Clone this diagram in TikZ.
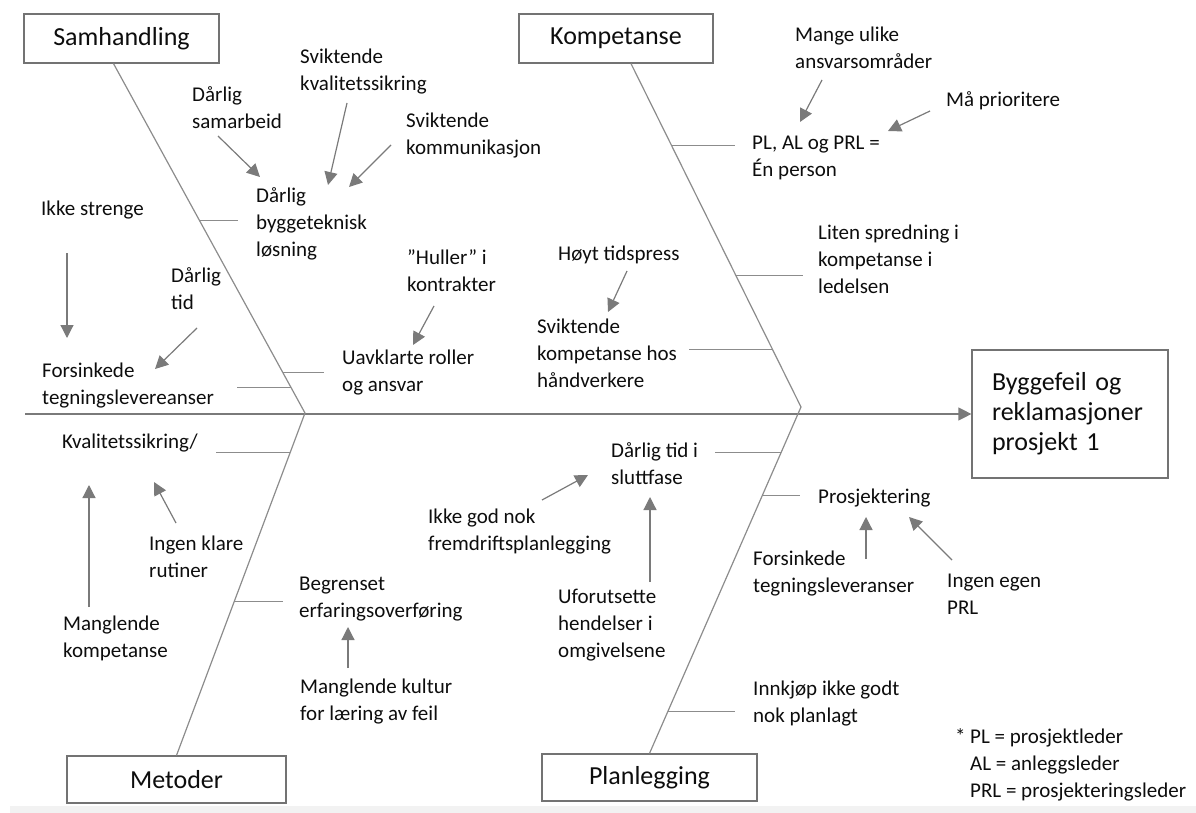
\documentclass[tikz,border=0pt]{standalone}
\usepackage{fontspec}
\setmainfont{Carlito}
\usepackage{xcolor}
\usepackage{tikz}
\usetikzlibrary{arrows.meta,calc}
\newcommand{\lbltext}[1]{\begin{tabular}[t]{@{}l@{}}#1\end{tabular}}

\begin{document}
\begin{tikzpicture}[x=1pt, y=-1pt,
    every node/.style={text=black!95},
    lbl/.style={anchor=base west, inner sep=0pt, font=\fontsize{21}{27}\selectfont},
    catbox/.style={draw=black!55, line width=1.2pt, fill=white, inner sep=0pt, font=\fontsize{26}{30}\selectfont},
    bone/.style={draw=gray!90, line width=1.2pt},
    branch/.style={draw=gray!90, line width=1pt},
    cause/.style={draw=black!52, line width=1.2pt, -{Triangle[length=13pt,width=13pt]}}]
    \useasboundingbox (0,0) rectangle (1196,813);
    \fill[black!5] (10,806) rectangle (1196,813);

    % Category boxes and effect
    \node[catbox, minimum width=195pt, minimum height=49pt] (samh) at (121.5,38.5) {Samhandling};
    \node[catbox, minimum width=194pt, minimum height=49pt] (komp) at (616,38.5) {Kompetanse};
    \node[catbox, minimum width=219pt, minimum height=47pt] (metod) at (176.5,779.5) {Metoder};
    \node[catbox, minimum width=215pt, minimum height=47pt] (planl) at (649.5,777.5) {Planlegging};
    \node[catbox, minimum width=196pt, minimum height=128pt, text width=156pt, align=left] (result) at (1070,414) {Byggefeil og\\reklamasjoner\\prosjekt 1};

    % Spine and bones
    \coordinate (tail) at (25,414);
    \coordinate (lefttip) at (305,413);
    \coordinate (righttip) at (801,407);
    \draw[cause] (tail) -- (result.west);
    \draw[bone] ($(samh.south)+(-8,0)$) -- (lefttip)
        coordinate[pos=0.449] (sb1) coordinate[pos=0.883] (sb2) coordinate[pos=0.926] (sb3);
    \draw[bone] ($(komp.south)+(15,0)$) -- (righttip)
        coordinate[pos=0.238] (kb1) coordinate[pos=0.616] (kb2) coordinate[pos=0.834] (kb3);
    \draw[bone] (metod.north) -- (lefttip)
        coordinate[pos=0.886] (mb1) coordinate[pos=0.449] (mb2);
    \draw[bone] (planl.north) -- (righttip)
        coordinate[pos=0.870] (pb1) coordinate[pos=0.7435] (pb2) coordinate[pos=0.121] (pb3);

    % Samhandling
    \node[lbl] (kvalsik) at (300,64) {\lbltext{Sviktende\\kvalitetssikring}};
    \node[lbl] (samarb) at (192,102) {\lbltext{Dårlig\\samarbeid}};
    \node[lbl] (komm) at (406,128) {\lbltext{Sviktende\\kommunikasjon}};
    \node[lbl] (bygg) at (256,203) {\lbltext{Dårlig\\byggeteknisk\\løsning}};
    \node[lbl] (strenge) at (41,215) {Ikke strenge};
    \node[lbl] (daarligtid) at (171,282) {\lbltext{Dårlig\\tid}};
    \node[lbl] (forsink) at (42,377) {\lbltext{Forsinkede\\tegningslevereanser}};
    \node[lbl] (huller) at (407,264) {\lbltext{”Huller” i\\kontrakter}};
    \node[lbl] (roller) at (342,364) {\lbltext{Uavklarte roller\\og ansvar}};
    \draw[branch, shorten >=18pt] (sb1) -- (sb1 -| bygg.west);
    \draw[branch, shorten >=18pt] (sb2) -- (sb2 -| roller.west);
    \draw[branch, shorten >=23pt] (sb3) -- (sb3 -| forsink.east);
    \draw[cause] ($(samarb.base west)+(26,34)$) -- ($(bygg.base west)+(4,-26)$);
    \draw[cause] ($(kvalsik.base west)+(47,39)$) -- ($(bygg.base west)+(72,-18)$);
    \draw[cause] ($(komm.base west)+(-15,17)$) -- ($(bygg.base west)+(93,-16)$);
    \draw[cause] ($(strenge.base west)+(26,38)$) -- ($(forsink.base west)+(25,-39)$);
    \draw[cause] ($(daarligtid.base west)+(26,46)$) -- ($(forsink.base west)+(113,-8)$);
    \draw[cause] ($(huller.base west)+(27,42)$) -- ($(roller.base west)+(71,-19)$);

    % Kompetanse
    \node[lbl] (ulike) at (795,42) {\lbltext{Mange ulike\\ansvarsområder}};
    \node[lbl] (prior) at (946,107) {Må prioritere};
    \node[lbl] (person) at (752,150) {\lbltext{PL, AL og PRL =\\Én person}};
    \node[lbl] (spredn) at (818,240) {\lbltext{Liten spredning i\\kompetanse i\\ledelsen}};
    \node[lbl] (tidspress) at (558,260) {Høyt tidspress};
    \node[lbl] (haandv) at (537,333) {\lbltext{Sviktende\\kompetanse hos\\håndverkere}};
    \draw[branch, shorten >=17pt] (kb1) -- (kb1 -| person.west);
    \draw[branch, shorten >=15pt] (kb2) -- (kb2 -| spredn.west);
    \draw[branch, shorten >=12pt] (kb3) -- (kb3 -| haandv.east);
    \draw[cause] ($(ulike.base west)+(27,38)$) -- ($(person.base west)+(48,-28)$);
    \draw[cause] ($(prior.base west)+(-16,4)$) -- ($(person.base west)+(136,-19)$);
    \draw[cause] ($(tidspress.base west)+(69,11)$) -- ($(haandv.base west)+(71,-21)$);

    % Metoder
    \node[lbl] (kvalitet) at (62,448) {Kvalitetssikring/};
    \node[lbl] (rutiner) at (149,550) {\lbltext{Ingen klare\\rutiner}};
    \node[lbl] (manglkomp) at (63,630) {\lbltext{Manglende\\kompetanse}};
    \node[lbl] (erfaring) at (299,590) {\lbltext{Begrenset\\erfaringsoverføring}};
    \node[lbl] (kultur) at (300,693) {\lbltext{Manglende kultur\\for læring av feil}};
    \draw[branch, shorten >=18pt] (mb1) -- (mb1 -| kvalitet.east);
    \draw[branch, shorten >=16pt] (mb2) -- (mb2 -| erfaring.west);
    \draw[cause] ($(manglkomp.base west)+(26,-23)$) -- ($(kvalitet.base west)+(27,37)$);
    \draw[cause] ($(rutiner.base west)+(27,-27)$) -- ($(kvalitet.base west)+(92,34)$);
    \draw[cause] ($(kultur.base west)+(48,-25)$) -- ($(erfaring.base west)+(49,37)$);

    % Planlegging
    \node[lbl] (sluttfase) at (611,457) {\lbltext{Dårlig tid i\\sluttfase}};
    \node[lbl] (fremdrift) at (428,523) {\lbltext{Ikke god nok\\fremdriftsplanlegging}};
    \node[lbl] (uforut) at (558,603) {\lbltext{Uforutsette\\hendelser i\\omgivelsene}};
    \node[lbl] (prosj) at (818,503) {Prosjektering};
    \node[lbl] (tegnlev) at (753,565) {\lbltext{Forsinkede\\tegningsleveranser}};
    \node[lbl] (egen) at (947,587) {\lbltext{Ingen egen\\PRL}};
    \node[lbl] (innkjop) at (753,695) {\lbltext{Innkjøp ikke godt\\nok planlagt}};
    \draw[branch, shorten >=17pt] (pb1) -- (pb1 -| sluttfase.east);
    \draw[branch, shorten >=18pt] (pb2) -- (pb2 -| prosj.west);
    \draw[branch, shorten >=18pt] (pb3) -- (pb3 -| innkjop.west);
    \draw[cause] ($(fremdrift.base west)+(114,-23)$) -- ($(sluttfase.base west)+(-23,18)$);
    \draw[cause] ($(uforut.base west)+(92,-21)$) -- ($(sluttfase.base west)+(39,40)$);
    \draw[cause] ($(tegnlev.base west)+(113,-6)$) -- ($(prosj.base west)+(48,14)$);
    \draw[cause] ($(egen.base west)+(5,-27)$) -- ($(prosj.base west)+(91,14)$);

    % Abbreviations
    \node[lbl] (legend) at (970,743) {\lbltext{\llap{* }PL = prosjektleder\\AL = anleggsleder\\PRL = prosjekteringsleder}};
\end{tikzpicture}
\end{document}
